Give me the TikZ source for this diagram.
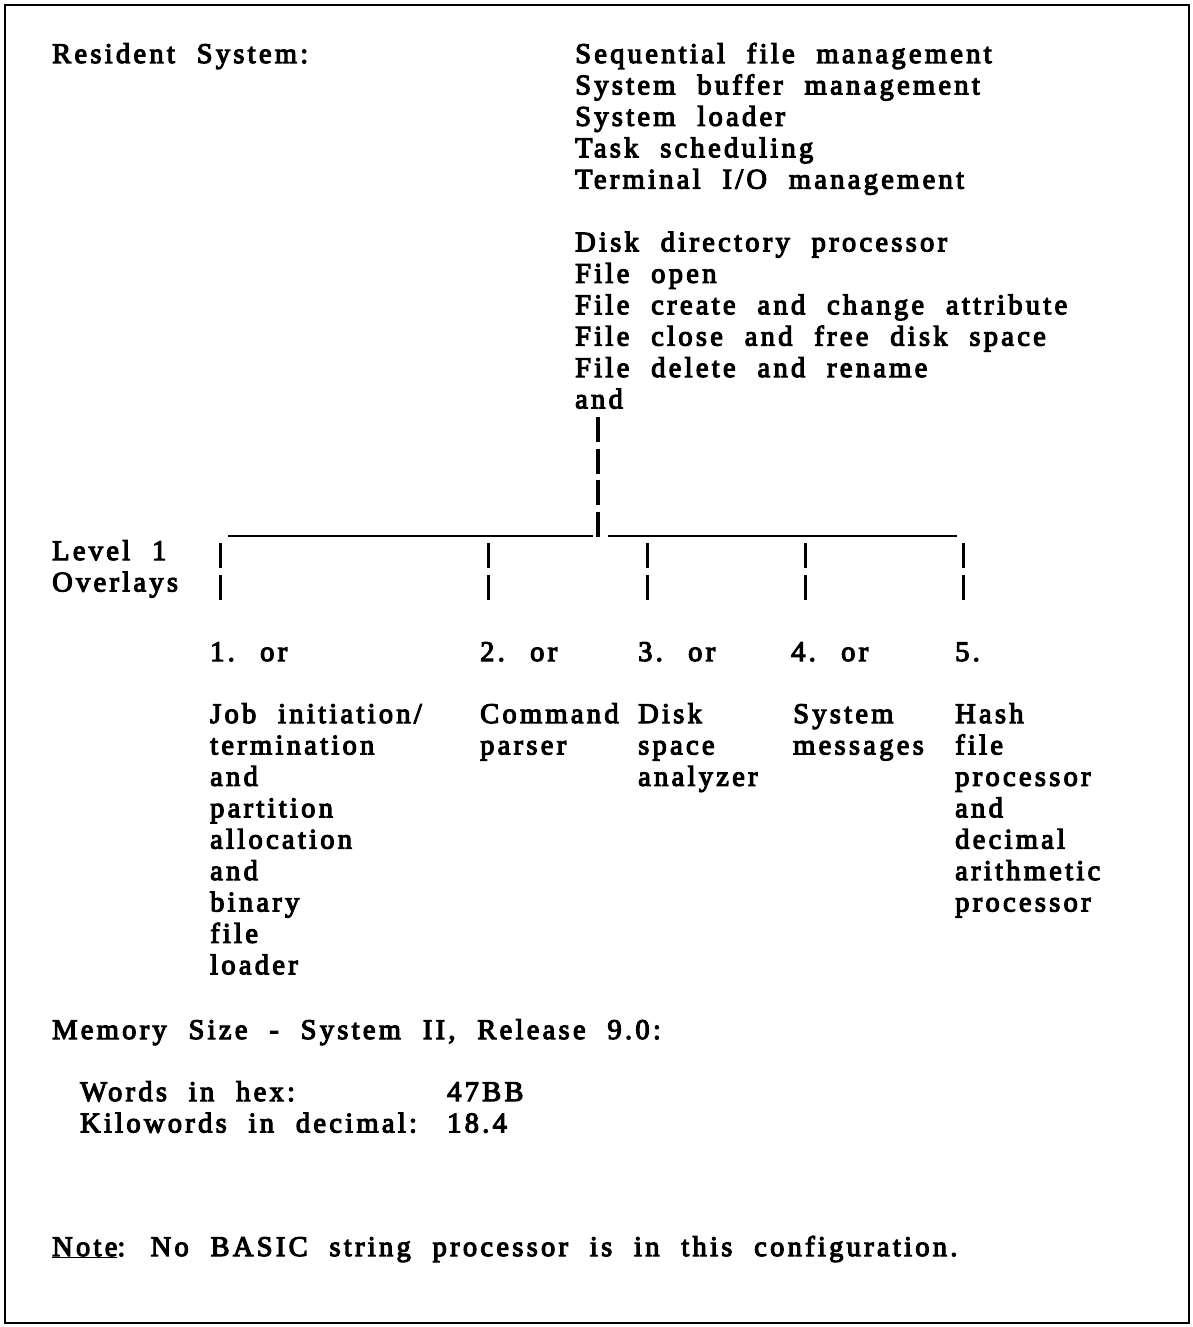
\documentclass[tikz,border=0pt]{standalone}
\usepackage{fontspec}
\setmainfont{Liberation Serif}[LetterSpace=11.5, WordSpace=2.1, FakeBold=4]
\begin{document}
\begin{tikzpicture}[x=1pt, y=-1pt,
  txt/.style={anchor=base west, inner sep=0pt, font=\fontsize{28.5}{31.4}\selectfont},
  frame/.style={line width=2.5pt},
  rule/.style={line width=2.8pt},
  bar/.style={line width=3.4pt, dash pattern=on 25pt off 6.5pt}]
\useasboundingbox (0,0) rectangle (1193,1327);
\draw[frame] (5,5) rectangle (1189,1323);

% resident system
\node[txt] (res) at (52,63) {Resident System:};
\node[txt] (r1)  at (575,63)    {Sequential file management};
\node[txt] (r2)  at (575,94.4)  {System buffer management};
\node[txt] (r3)  at (575,125.8) {System loader};
\node[txt] (r4)  at (575,157.2) {Task scheduling};
\node[txt] (r5)  at (575,188.6) {Terminal I/O management};
\node[txt] (r6)  at (575,251.4) {Disk directory processor};
\node[txt] (r7)  at (575,282.8) {File open};
\node[txt] (r8)  at (575,314.2) {File create and change attribute};
\node[txt] (r9)  at (575,345.6) {File close and free disk space};
\node[txt] (r10) at (575,377)   {File delete and rename};
\node[txt] (and) at (575,408.4) {and};

% level 1 overlay label
\node[txt] (lev) at (52,560)   {Level 1};
\node[txt] (ovl) at (52,591.4) {Overlays};

% overlay tree
\coordinate (stem)  at (598,417);
\coordinate (junc)  at (598,537);
\coordinate (hl)    at (228,536);
\coordinate (jl)    at (593,536);
\coordinate (jr)    at (608,536);
\coordinate (hr)    at (957,536);
\draw[bar] (stem) -- (junc);
\draw[rule] (hl) -- (jl);
\draw[rule] (jr) -- (hr);

% overlay numbers
\node[txt] (o1) at (210,661) {1. or};
\node[txt] (o2) at (480,661) {2. or};
\node[txt] (o3) at (638,661) {3. or};
\node[txt] (o4) at (791,661) {4. or};
\node[txt] (o5) at (955,661) {5.};

\foreach \x/\n in {220/1, 488/2, 647/3, 805/4, 963/5} {
  \coordinate (t\n) at (\x,543);
  \coordinate (b\n) at (\x,600);
  \draw[bar, line width=3pt, dash pattern=on 25pt off 7pt] (t\n) -- (b\n);
}

% overlay descriptions
\node[txt] (a1) at (210,723)   {Job initiation/};
\node[txt] (a2) at (210,754.4) {termination};
\node[txt] (a3) at (210,785.8) {and};
\node[txt] (a4) at (210,817.2) {partition};
\node[txt] (a5) at (210,848.6) {allocation};
\node[txt] (a6) at (210,880)   {and};
\node[txt] (a7) at (210,911.4) {binary};
\node[txt] (a8) at (210,942.8) {file};
\node[txt] (a9) at (210,974.2) {loader};

\node[txt] (c1) at (480,723)   {Command};
\node[txt] (c2) at (480,754.4) {parser};

\node[txt] (d1) at (638,723)   {Disk};
\node[txt] (d2) at (638,754.4) {space};
\node[txt] (d3) at (638,785.8) {analyzer};

\node[txt] (m1) at (793,723)   {System};
\node[txt] (m2) at (793,754.4) {messages};

\node[txt] (h1) at (955,723)   {Hash};
\node[txt] (h2) at (955,754.4) {file};
\node[txt] (h3) at (955,785.8) {processor};
\node[txt] (h4) at (955,817.2) {and};
\node[txt] (h5) at (955,848.6) {decimal};
\node[txt] (h6) at (955,880)   {arithmetic};
\node[txt] (h7) at (955,911.4) {processor};

% memory size
\node[txt] (mem) at (52,1039) {Memory Size - System II, Release 9.0:};
\node[txt] (w1)  at (80,1101)    {Words in hex:};
\node[txt] (w2)  at (80,1132.4)  {Kilowords in decimal:};
\node[txt] (v1)  at (447,1101)   {47BB};
\node[txt] (v2)  at (447,1132.4) {18.4};

% note
\node[txt] (note) at (52,1256) {\underline{Note}: No BASIC string processor is in this configuration.};
\end{tikzpicture}
\end{document}
